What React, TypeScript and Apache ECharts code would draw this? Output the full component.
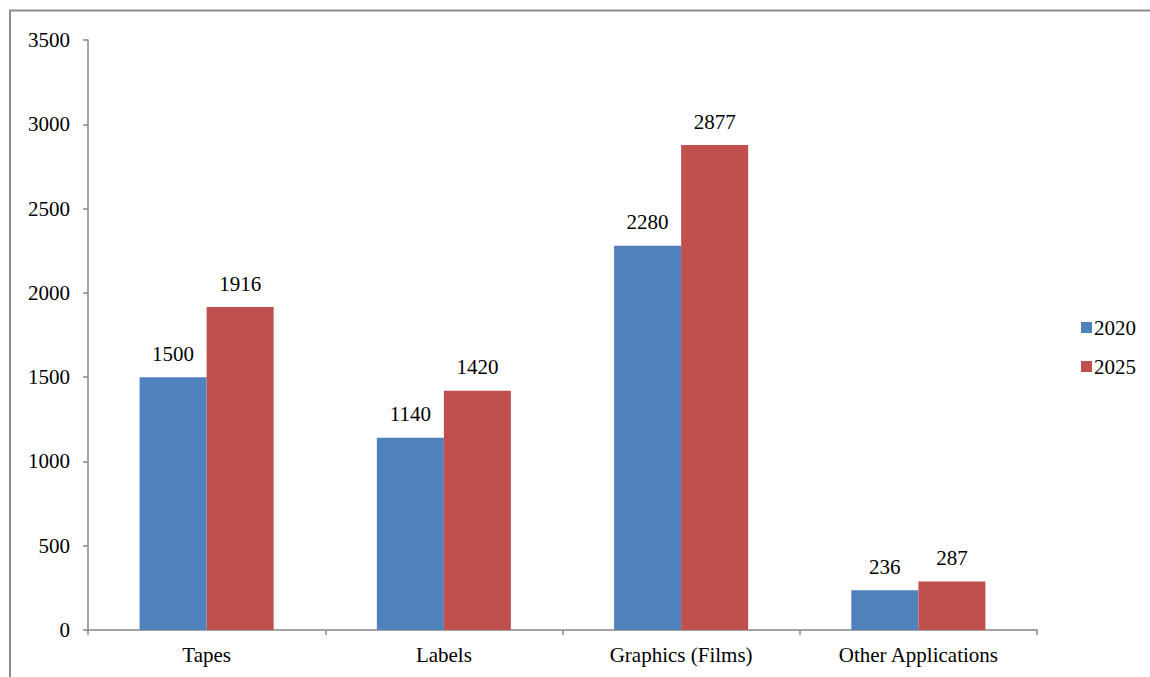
import React, { useEffect, useRef } from "react";
import * as echarts from "echarts";

const categories = ["Tapes", "Labels", "Graphics (Films)", "Other Applications"];
const seriesNames = ["2020", "2025"];
const values2020 = [1500, 1140, 2280, 236];
const values2025 = [1916, 1420, 2877, 287];
const seriesColors = ["#4F81BD", "#C0504D"];

const FONT = "Liberation Serif";
const FONT_SIZE = 21;
const AXIS_GRAY = "#868686";

export default function App() {
  const ref = useRef<HTMLDivElement>(null);

  useEffect(() => {
    if (!ref.current) return;
    const chart = echarts.init(ref.current, null, { renderer: "svg" });
    const seriesData = [values2020, values2025];

    chart.setOption({
      animation: false,
      backgroundColor: "#ffffff",
      textStyle: { fontFamily: FONT, color: "#000" },
      graphic: [
        {
          type: "rect",
          shape: { x: 10, y: 10.5, width: 1200, height: 700 },
          style: { fill: "none", stroke: "#8c8c8c", lineWidth: 2 },
          silent: true,
        },
      ],
      grid: { left: 88, right: 113, top: 40, bottom: 47, containLabel: false },
      legend: {
        orient: "vertical",
        left: 1076,
        top: 312,
        itemWidth: 11,
        itemHeight: 11,
        itemGap: 18,
        icon: "rect",
        data: seriesNames,
        textStyle: { fontFamily: FONT, fontSize: FONT_SIZE, color: "#000", padding: [0, 0, 0, -3] },
      },
      xAxis: {
        type: "category",
        data: categories,
        boundaryGap: true,
        axisLine: { lineStyle: { color: AXIS_GRAY, width: 1.5 } },
        axisTick: { show: true, length: 5, alignWithLabel: false, lineStyle: { color: AXIS_GRAY, width: 1.5 } },
        axisLabel: { fontFamily: FONT, fontSize: FONT_SIZE, color: "#000", margin: 14 },
        splitLine: { show: false },
      },
      yAxis: {
        type: "value",
        min: 0,
        max: 3500,
        interval: 500,
        axisLine: { show: true, lineStyle: { color: AXIS_GRAY, width: 1.5 } },
        axisTick: { show: true, length: 5, lineStyle: { color: AXIS_GRAY, width: 1.5 } },
        axisLabel: {
          fontFamily: FONT,
          fontSize: FONT_SIZE,
          color: "#000",
          margin: 18,
          formatter: (v: number) => String(v),
        },
        splitLine: { show: false },
      },
      series: seriesNames.map((name, i) => ({
        name,
        type: "bar",
        data: seriesData[i],
        barGap: "0%",
        barCategoryGap: "43.5%",
        itemStyle: { color: seriesColors[i] },
        label: {
          show: true,
          position: "top",
          distance: 13,
          fontFamily: FONT,
          fontSize: FONT_SIZE,
          color: "#000",
        },
      })),
    });

    return () => chart.dispose();
  }, []);

  return (
    <div
      ref={ref}
      style={{ position: "fixed", left: 0, top: 0, width: 1150, height: 677 }}
    />
  );
}
